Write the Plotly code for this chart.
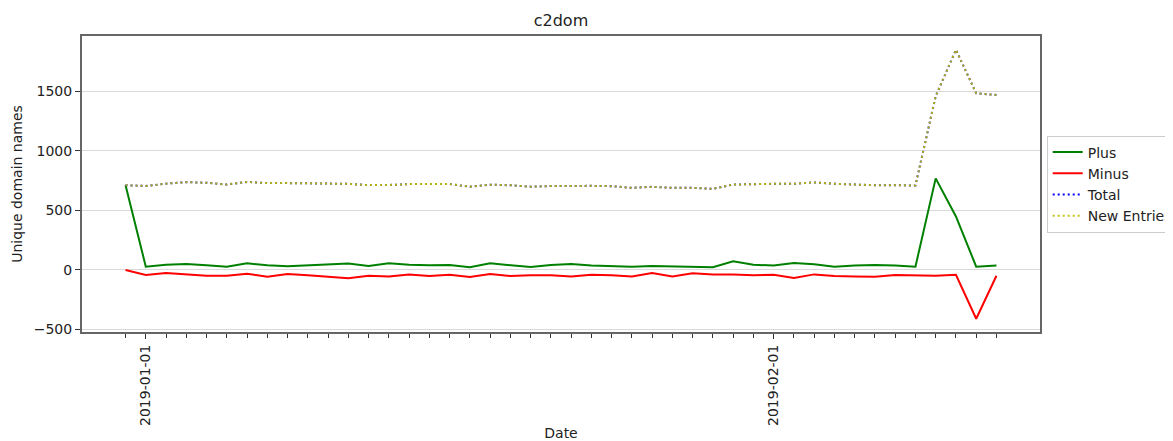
import pandas as pd
import plotly.graph_objects as go

dates = pd.date_range("2018-12-31", "2019-02-12", freq="D")

plus = [712, 28, 45, 51, 40, 28, 56, 40, 31, 40, 51, 54, 34, 56, 45, 40, 42, 23, 56, 42, 25, 42,
        51, 37, 34, 28, 34, 31, 25, 23, 73, 45, 37, 59, 48, 28, 37, 42, 37, 28, 770, 450, 28, 37]
minus = [0, -42, -25, -37, -48, -48, -31, -56, -34, -45, -56, -70, -48, -54, -37, -51, -40, -59, -34, -51, -45, -45,
         -54, -40, -45, -54, -25, -54, -28, -37, -37, -45, -40, -68, -37, -51, -54, -56, -42, -42, -48, -40, -410, -48]
total = [712, 706, 725, 738, 733, 718, 740, 730, 730, 730, 730, 724, 713, 714, 722, 722, 722, 700, 717, 712, 700, 705,
         707, 707, 704, 690, 699, 690, 690, 682, 718, 724, 724, 724, 736, 724, 716, 712, 712, 710, 1460, 1850, 1485, 1470]
new_entries = list(total)

tick_vals = ["2019-01-01", "2019-02-01"]
tick_text = ["2019-01-01", "2019-02-01"]
y_ticks = [-500, 0, 500, 1000, 1500]

FONT = "DejaVu Sans"
W, H = 1165, 433

fig = go.Figure()
fig.add_trace(go.Scatter(x=dates, y=plus, mode="lines", name="Plus",
                         line=dict(color="#008000", width=2)))
fig.add_trace(go.Scatter(x=dates, y=minus, mode="lines", name="Minus",
                         line=dict(color="#ff0000", width=2)))
fig.add_trace(go.Scatter(x=dates, y=total, mode="lines", name="Total",
                         line=dict(color="#0000ff", width=2, dash="2px,3px")))
fig.add_trace(go.Scatter(x=dates, y=new_entries, mode="lines", name="New Entries",
                         line=dict(color="#bfbf00", width=2, dash="2px,3px"), opacity=0.92))

fig.update_layout(
    width=W, height=H,
    margin=dict(l=74, r=133, t=28, b=109, autoexpand=False),
    paper_bgcolor="white", plot_bgcolor="white",
    font=dict(family=FONT, size=14, color="#222"),
    title=dict(text="c2dom", x=0.5, xanchor="center", xref="paper", y=1 - 12 / H, yref="container",
               yanchor="middle", font=dict(family=FONT, size=16, color="#222")),
    showlegend=True,
    legend=dict(x=1.007, xanchor="left", y=0.5, yanchor="middle",
                bordercolor="#cccccc", borderwidth=1, bgcolor="white",
                font=dict(family=FONT, size=14, color="#222"),
                tracegroupgap=0, itemwidth=30),
)

fig.update_xaxes(
    automargin=False,
    range=["2018-12-28 20:24", "2019-02-14 03:36"],
    tickmode="array", tickvals=tick_vals, ticktext=tick_text, tickangle=-90,
    ticks="outside", ticklen=5, tickcolor="#333", tickwidth=1,
    minor=dict(tickmode="array", tickvals=[d for d in dates if d.day != 1],
               ticks="outside", ticklen=4, tickcolor="#333", showgrid=False),
    showgrid=False, zeroline=False,
    showline=True, linecolor="#666", linewidth=2, mirror=True,
    title=dict(text="Date", standoff=12, font=dict(family=FONT, size=14, color="#222")),
    tickfont=dict(family=FONT, size=14, color="#222"),
)
fig.update_yaxes(
    automargin=False,
    range=[-521, 1966],
    tickmode="array", tickvals=y_ticks,
    ticks="outside", ticklen=5, tickcolor="#333",
    showgrid=True, gridcolor="#d9d9d9", gridwidth=1,
    zeroline=False,
    showline=True, linecolor="#666", linewidth=2, mirror=True,
    title=dict(text="Unique domain names", standoff=8, font=dict(family=FONT, size=14, color="#222")),
    tickfont=dict(family=FONT, size=14, color="#222"),
)

fig.write_html("out.html")
